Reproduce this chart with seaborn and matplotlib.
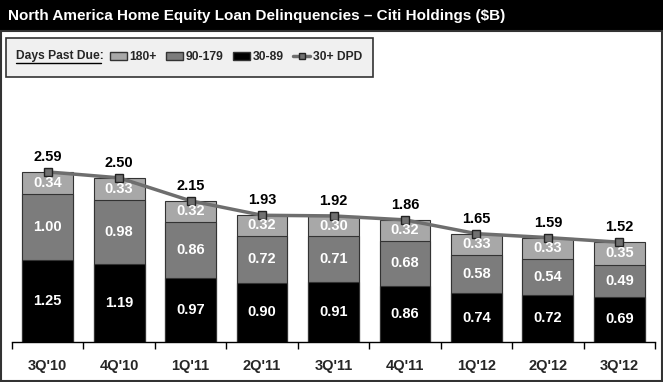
import numpy as np
import pandas as pd
import matplotlib
matplotlib.use("Agg")
import matplotlib.pyplot as plt
from matplotlib.patches import Rectangle, Patch
from matplotlib.lines import Line2D
import seaborn as sns

quarters = ["3Q'10", "4Q'10", "1Q'11", "2Q'11", "3Q'11", "4Q'11", "1Q'12", "2Q'12", "3Q'12"]
dpd_30_89 = [1.25, 1.19, 0.97, 0.90, 0.91, 0.86, 0.74, 0.72, 0.69]
dpd_90_179 = [1.00, 0.98, 0.86, 0.72, 0.71, 0.68, 0.58, 0.54, 0.49]
dpd_180 = [0.34, 0.33, 0.32, 0.32, 0.30, 0.32, 0.33, 0.33, 0.35]
dpd_total = [2.59, 2.50, 2.15, 1.93, 1.92, 1.86, 1.65, 1.59, 1.52]

c180, c90, c30, cline = "#a8a8a8", "#7c7c7c", "#000000", "#6e6e6e"

sns.set_theme(style="white")
plt.rcParams['font.family'] = ['Liberation Sans', 'DejaVu Sans']

df = pd.DataFrame({"quarter": quarters, "d30": dpd_30_89, "d90": dpd_90_179, "d180": dpd_180})
df["s2"] = df["d30"] + df["d90"]
df["s3"] = df["s2"] + df["d180"]

fig = plt.figure(figsize=(6.63, 3.82), dpi=100)
ax = fig.add_axes([12 / 663, 1 - 342 / 382, 643 / 663, 262 / 382])

kw = dict(x="quarter", ax=ax, width=0.71, edgecolor="#333333", linewidth=0.8)
sns.barplot(data=df, y="s3", color=c180, **kw)
sns.barplot(data=df, y="s2", color=c90, **kw)
sns.barplot(data=df, y="d30", color=c30, **kw)
n = len(quarters)
for i, p in enumerate(ax.patches):
    p.set_facecolor([c180, c90, c30][i // n])

pos = np.arange(n)
sns.lineplot(x=pos, y=dpd_total, ax=ax, color=cline, linewidth=2.5, marker="s",
             markersize=6, markerfacecolor="#707070", markeredgecolor="#222222",
             markeredgewidth=1)

lab = dict(color="white", fontsize=10.5, fontweight="bold", ha="center", va="center")
for i in range(n):
    ax.text(i, dpd_30_89[i] / 2, f"{dpd_30_89[i]:.2f}", **lab)
    ax.text(i, dpd_30_89[i] + dpd_90_179[i] / 2, f"{dpd_90_179[i]:.2f}", **lab)
    ax.text(i, df["s2"][i] + dpd_180[i] / 2, f"{dpd_180[i]:.2f}", **lab)
    ax.text(i, dpd_total[i] + 0.12, f"{dpd_total[i]:.2f}", color="black", fontsize=10.5,
            fontweight="bold", ha="center", va="bottom")

ax.set_ylim(0, 3.99)
ax.set_xlim(-0.5, n - 0.5)
ax.set_xlabel("")
ax.set_ylabel("")
ax.set_yticks([])
ax.set_xticks(pos)
ax.set_xticklabels(quarters, fontsize=10.5, fontweight="bold")
ax.set_xticks(np.arange(n + 1) - 0.5, minor=True)
ax.tick_params(axis="x", which="major", length=0, pad=12)
ax.tick_params(axis="x", which="minor", length=5, width=1, color="black", direction="out", bottom=True)
for s in ["left", "right", "top"]:
    ax.spines[s].set_visible(False)
ax.spines["bottom"].set_color("black")
ax.spines["bottom"].set_linewidth(1)

# title bar and frame
fig.add_artist(Rectangle((0, 1 - 31 / 382), 1, 31 / 382, transform=fig.transFigure,
                         facecolor="black", edgecolor="none"))
fig.text(8 / 663, 1 - 16 / 382, "North America Home Equity Loan Delinquencies \u2013 Citi Holdings ($B)",
         color="white", fontsize=11, fontweight="bold", va="center", ha="left")
fig.add_artist(Rectangle((1 / 663, 1 / 382), 661 / 663, 350 / 382, transform=fig.transFigure,
                         facecolor="none", edgecolor="#333333", linewidth=1.5))

# legend box
fig.add_artist(Rectangle((6 / 663, 1 - 77 / 382), 367 / 663, 39 / 382, transform=fig.transFigure,
                         facecolor="#f0f0f0", edgecolor="#333333", linewidth=1.2))
fig.text(16 / 663, 1 - 56 / 382, "Days Past Due:", fontsize=8.7, fontweight="bold", va="center",
         ha="left")
fig.add_artist(Line2D([16 / 663, 101 / 663], [1 - 63 / 382] * 2, transform=fig.transFigure,
                      color="black", linewidth=1))
handles = [
    Patch(facecolor=c180, edgecolor="#333333", label="180+"),
    Patch(facecolor=c90, edgecolor="#333333", label="90-179"),
    Patch(facecolor=c30, edgecolor="#333333", label="30-89"),
    Line2D([], [], color=cline, linewidth=2.5, marker="s", markersize=5,
           markerfacecolor="#707070", markeredgecolor="#222222", label="30+ DPD"),
]
fig.legend(handles=handles, loc="center left", bbox_to_anchor=(110 / 663, 1 - 57 / 382), ncol=4,
           frameon=False, handlelength=1.4, handleheight=0.7, handletextpad=0.2,
           columnspacing=0.8, borderaxespad=0, borderpad=0,
           prop={"weight": "bold", "size": 8.7})

fig.savefig("out.png", dpi=100)
